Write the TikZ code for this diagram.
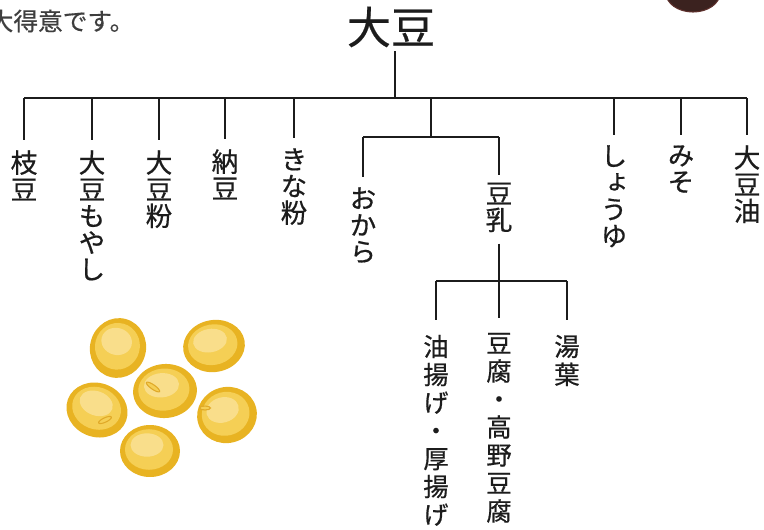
\documentclass[tikz,border=0pt]{standalone}
\usepackage{fontspec}
\setmainfont{Noto Sans CJK JP}
\newfontfamily\jp[FakeBold=0.5]{Noto Sans CJK JP}
\newfontfamily\jpv[RawFeature={+vert},FakeBold=0.6]{Noto Sans CJK JP}
\newcommand\vstack{\jpv\fontsize{20}{20}\selectfont\lineskiplimit-20pt\relax}
\newcommand\vstackwide{\jpv\fontsize{19}{21}\selectfont\lineskiplimit-20pt\relax}
\definecolor{ink}{HTML}{1C1C1C}
\definecolor{beanedge}{HTML}{E8B322}
\definecolor{beanbody}{HTML}{F5CF55}
\definecolor{beanlight}{HTML}{FBE5A2}
\definecolor{bottle}{HTML}{3B221F}
\definecolor{bottlerim}{HTML}{5E302C}
\tikzset{
  conn/.style={draw=ink, line width=1.4pt},
  item/.style={anchor=north, inner xsep=0pt, inner ysep=7.5pt, align=center, text=ink,
    font=\vstack},
  subitem/.style={item, inner ysep=11pt, font=\vstackwide},
  rootlabel/.style={inner sep=3pt, text=ink, font=\jp\fontsize{33}{33}\selectfont},
  remark/.style={anchor=west, inner sep=0pt, text=ink!85, font=\jp\fontsize{18.5}{18.5}\selectfont}
}
\begin{document}
\begin{tikzpicture}[x=0.75pt, y=-0.75pt]
\useasboundingbox (0,0) rectangle (764,529);
\clip (0,0) rectangle (764,529);

% text running in from the previous line
\node[remark] (note) at (-11.5,21) {大得意です。};

% bottom of the bottle in the corner
\fill[bottle] (693,-7) ellipse [x radius=27, y radius=19];
\draw[bottlerim, line width=0.8pt] (693,-7) ellipse [x radius=27, y radius=19];

% root
\node[rootlabel] (root) at (391,27) {大豆};
\coordinate (j0) at (395,98);
\coordinate (mainbus) at (0,98);

% first level
\node[item] (edamame) at (24,140) {枝\\豆};
\node[item] (moyashi) at (92,140) {大\\豆\\も\\や\\し};
\node[item] (flour) at (159,140) {大\\豆\\粉};
\node[item] (natto) at (225,139) {納\\豆};
\node[item] (kinako) at (294,138) {き\\な\\粉};
\node[item] (shoyu) at (614,135) {し\\ょ\\う\\ゆ};
\node[item] (miso) at (681,135) {み\\そ};
\node[item] (oil) at (747,135) {大\\豆\\油};

\coordinate (j1) at (431,98);
\coordinate (sub1) at (431,137);
\node[item] (okara) at (363,177) {お\\か\\ら};
\node[item, inner ysep=5.5pt] (tonyu) at (499,175) {豆\\乳};

% second level
\coordinate (sub2) at (499,281);
\node[subitem] (aburaage) at (436,320) {油\\揚\\げ\\・\\厚\\揚\\げ};
\node[subitem] (tofu) at (499,318) {豆\\腐\\・\\高\\野\\豆\\腐};
\node[subitem] (yuba) at (567,320) {湯\\葉};

% connectors
\draw[conn] (root.south -| j0) -- (j0);
\draw[conn] (edamame.north |- mainbus) -- (oil.north |- mainbus);
\foreach \n in {edamame,moyashi,flour,natto,kinako,shoyu,miso,oil}
  \draw[conn] (\n.north |- mainbus) -- (\n.north);
\draw[conn] (j1) -- (sub1);
\draw[conn] (okara.north |- sub1) -- (tonyu.north |- sub1);
\draw[conn] (okara.north |- sub1) -- (okara.north);
\draw[conn] (tonyu.north |- sub1) -- (tonyu.north);
\draw[conn] ([yshift=-3pt]tonyu.south) -- (tonyu.south |- sub2);
\draw[conn] (aburaage.north |- sub2) -- (yuba.north |- sub2);
\foreach \n in {aburaage,tofu,yuba}
  \draw[conn] (\n.north |- sub2) -- (\n.north);

% soybeans
\foreach \cx/\cy/\rx/\ry/\rot in {118/348/28/30/-15, 214/346/31/26/10, 165/391/32/27/5,
                                   97/410/31/27/-20, 227/415/30/28/15, 150/451/30/26/0} {
  \begin{scope}[rotate around={\rot:(\cx,\cy)}]
    \fill[beanedge] (\cx,\cy) ellipse [x radius=\rx, y radius=\ry];
    \fill[beanbody] (\cx-1,\cy-1.5) ellipse [x radius=\rx*0.8, y radius=\ry*0.78];
    \fill[beanlight, opacity=0.7] (\cx-3,\cy-6) ellipse [x radius=\rx*0.55, y radius=\ry*0.45];
  \end{scope}
}
% hila
\draw[beanedge!80!brown, line width=0.8pt, fill=beanbody, rotate around={-35:(153,387)}]
  (153,387) ellipse [x radius=8, y radius=2.2];
\draw[beanedge!80!brown, line width=0.8pt, fill=beanbody, rotate around={25:(105,420)}]
  (105,420) ellipse [x radius=7, y radius=2.2];
\draw[beanedge!80!brown, line width=0.8pt, fill=beanbody]
  (205,408) ellipse [x radius=5.5, y radius=2];
\end{tikzpicture}
\end{document}
